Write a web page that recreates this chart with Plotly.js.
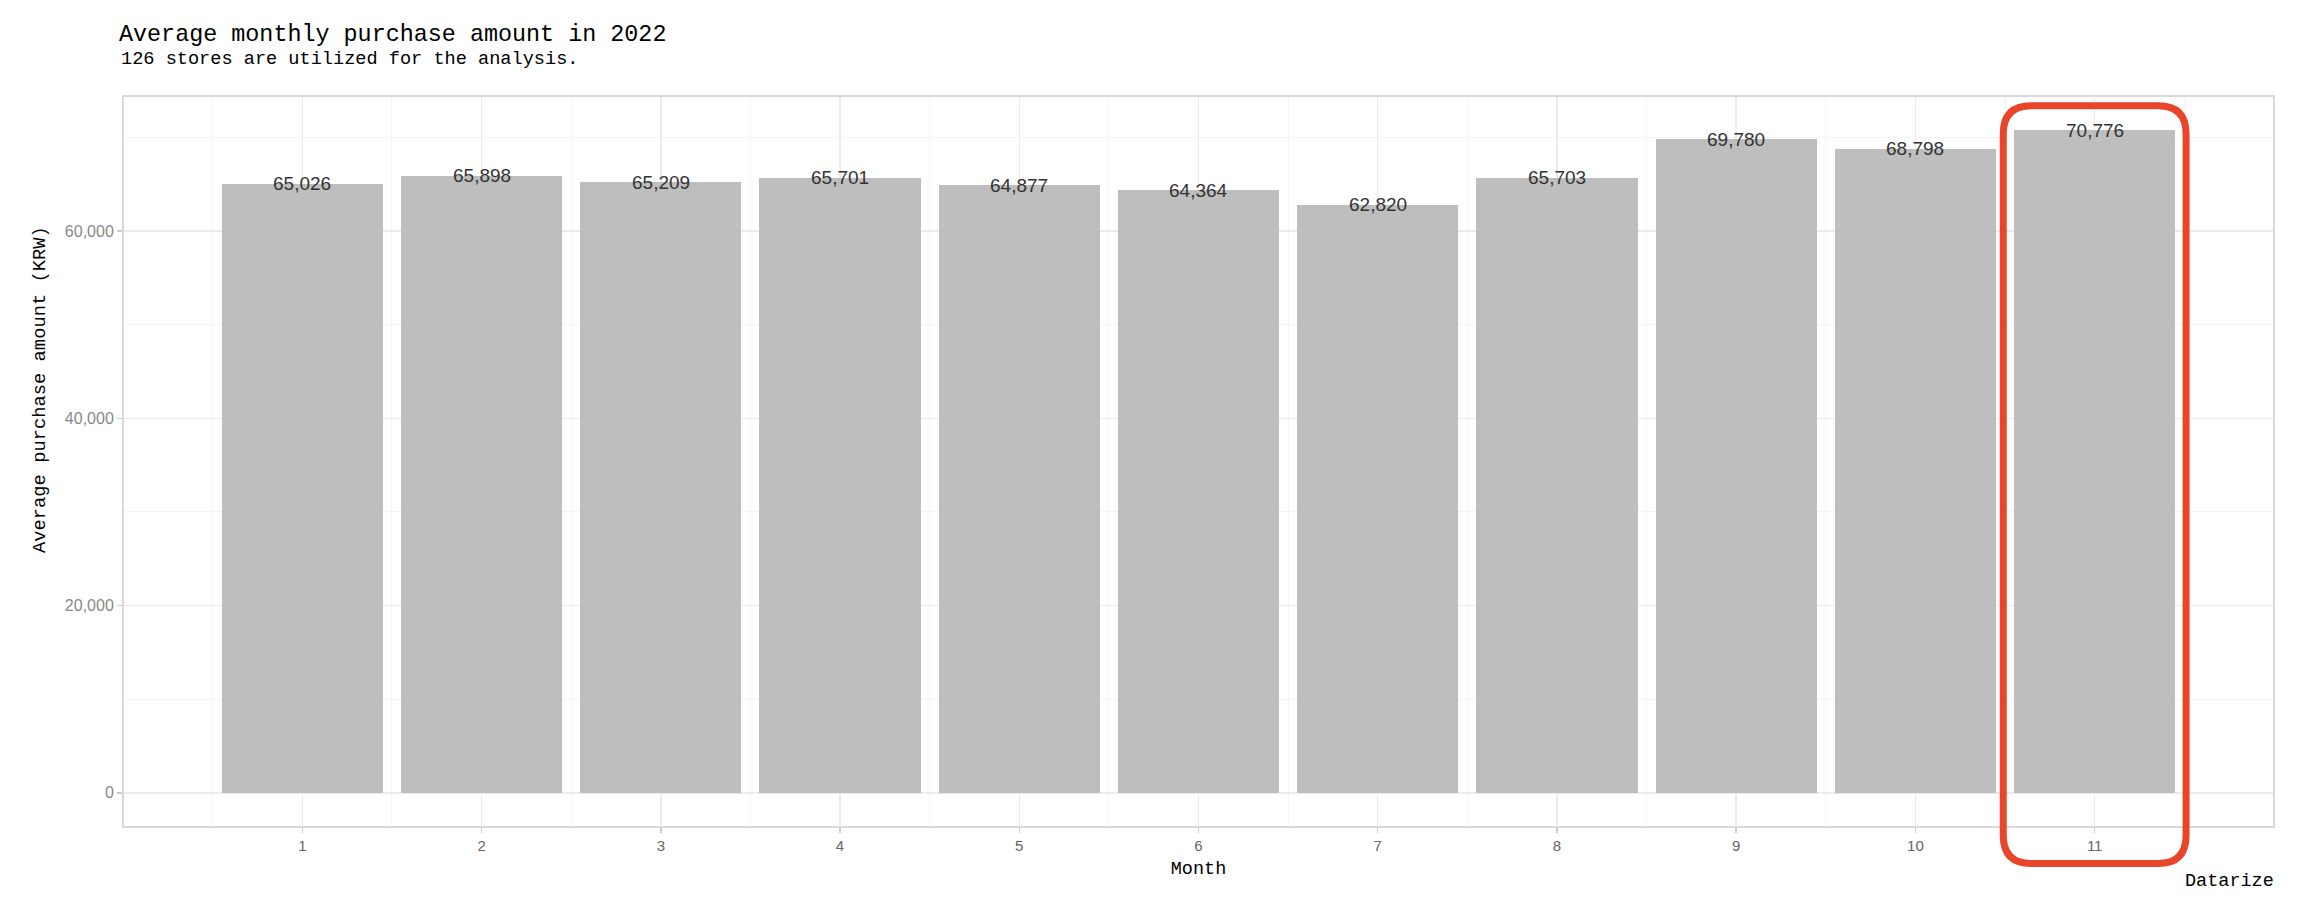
<!DOCTYPE html>
<html>
<head>
<meta charset="utf-8">
<script src="https://cdn.plot.ly/plotly-3.0.1.min.js"></script>
<style>
  html, body { margin: 0; padding: 0; background: #fff; }
  #chart { width: 2314px; height: 924px; }
</style>
</head>
<body>
<div id="chart"></div>
<script>
// ---- Data ----
const months = [1, 2, 3, 4, 5, 6, 7, 8, 9, 10, 11];
const monthLabels = ['1', '2', '3', '4', '5', '6', '7', '8', '9', '10', '11'];
const purchaseAmounts = [65026, 65898, 65209, 65701, 64877, 64364, 62820, 65703, 69780, 68798, 70776];
const yTickVals = [0, 20000, 40000, 60000];
const yMinorVals = [10000, 30000, 50000, 70000];
const xMinorVals = [0.5, 1.5, 2.5, 3.5, 4.5, 5.5, 6.5, 7.5, 8.5, 9.5, 10.5, 11.5];
const highlightMonth = 11;

const titleText = 'Average monthly purchase amount in 2022';
const subtitleText = '126 stores are utilized for the analysis.';
const captionText = 'Datarize';
const xTitle = 'Month';
const yTitle = 'Average purchase amount (KRW)';

// ---- Scales (ggplot-like expansion) ----
const barWidth = 0.9;
const xLo = Math.min(...months) - barWidth / 2;
const xHi = Math.max(...months) + barWidth / 2;
const xPad = (xHi - xLo) * 0.05;
const xRange = [xLo - xPad, xHi + xPad];
const yMax = Math.max(...purchaseAmounts);
const yRange = [-0.05 * yMax, yMax * 1.05];

const mono = 'Liberation Mono, Courier New, monospace';
const sans = 'Liberation Sans, Helvetica, Arial, sans-serif';

const trace = {
  type: 'bar',
  x: months,
  y: purchaseAmounts,
  width: barWidth,
  marker: { color: '#bebebe', line: { width: 0 } },
  hoverinfo: 'x+y'
};

const labelAnnotations = months.map((m, i) => ({
  x: m, y: purchaseAmounts[i], xref: 'x', yref: 'y',
  text: purchaseAmounts[i].toLocaleString('en-US'),
  showarrow: false, xanchor: 'center', yanchor: 'middle', yshift: 0,
  font: { family: sans, size: 19, color: '#333333' }
}));

// Highlight rounded rectangle around the selected month (paper coords)
const plotW = 2314 - 124 - 41, plotH = 924 - 97 - 98;
const toPaperX = v => (v - xRange[0]) / (xRange[1] - xRange[0]);
const hx0 = toPaperX(highlightMonth - 0.51);
const hx1 = toPaperX(highlightMonth + 0.51);
const hy0 = -0.0515, hy1 = 0.988;
const rx = 28 / plotW, ry = 28 / plotH;
const roundedPath =
  `M ${hx0 + rx} ${hy1} L ${hx1 - rx} ${hy1} Q ${hx1} ${hy1} ${hx1} ${hy1 - ry} ` +
  `L ${hx1} ${hy0 + ry} Q ${hx1} ${hy0} ${hx1 - rx} ${hy0} ` +
  `L ${hx0 + rx} ${hy0} Q ${hx0} ${hy0} ${hx0} ${hy0 + ry} ` +
  `L ${hx0} ${hy1 - ry} Q ${hx0} ${hy1} ${hx0 + rx} ${hy1} Z`;

const layout = {
  width: 2314, height: 924,
  paper_bgcolor: '#ffffff', plot_bgcolor: '#ffffff',
  margin: { l: 124, r: 41, t: 97, b: 98 },
  showlegend: false,
  bargap: 0,
  title: {
    text: titleText,
    x: 119 / 2314, xanchor: 'left', xref: 'container',
    y: 1 - 33 / 924, yanchor: 'middle', yref: 'container',
    font: { family: mono, size: 23.4, color: '#000000' }
  },
  xaxis: {
    range: xRange, autorange: false,
    tickmode: 'array', tickvals: months, ticktext: monthLabels,
    ticks: 'outside', ticklen: 5, tickwidth: 1.5, tickcolor: '#cccccc',
    tickfont: { family: sans, size: 15, color: '#666666' },
    showgrid: true, gridcolor: '#ebebeb', gridwidth: 1.5,
    minor: { tickmode: 'array', tickvals: xMinorVals, showgrid: true, gridcolor: '#f4f4f4', gridwidth: 1, ticks: '' },
    zeroline: false,
    showline: true, mirror: true, linecolor: '#d9d9d9', linewidth: 2,
    title: { text: xTitle, standoff: 8, font: { family: mono, size: 18.5, color: '#000000' } },
    fixedrange: true
  },
  yaxis: {
    range: yRange, autorange: false,
    tickmode: 'array', tickvals: yTickVals, tickformat: ',d',
    ticks: 'outside', ticklen: 5, tickwidth: 1.5, tickcolor: '#cccccc',
    tickfont: { family: sans, size: 16, color: '#888888' },
    showgrid: true, gridcolor: '#ebebeb', gridwidth: 1.5,
    minor: { tickmode: 'array', tickvals: yMinorVals, showgrid: true, gridcolor: '#f4f4f4', gridwidth: 1, ticks: '' },
    zeroline: false,
    showline: true, mirror: true, linecolor: '#d9d9d9', linewidth: 2,
    fixedrange: true
  },
  annotations: labelAnnotations.concat([
    {
      text: subtitleText, xref: 'paper', yref: 'paper',
      x: (119 - 124) / plotW, y: 1 + (97 - 59) / plotH,
      xanchor: 'left', yanchor: 'middle', showarrow: false,
      font: { family: mono, size: 18.6, color: '#000000' }
    },
    {
      text: yTitle, xref: 'paper', yref: 'paper', textangle: -90,
      x: (40 - 124) / plotW, y: (826 - 390) / plotH,
      xanchor: 'center', yanchor: 'middle', showarrow: false,
      font: { family: mono, size: 18.8, color: '#000000' }
    },
    {
      text: captionText, xref: 'paper', yref: 'paper',
      x: 1 + 3 / plotW, y: -(881 - 826) / plotH,
      xanchor: 'right', yanchor: 'middle', showarrow: false,
      font: { family: mono, size: 18.5, color: '#000000' }
    }
  ]),
  shapes: [{
    type: 'path', xref: 'paper', yref: 'paper', layer: 'above',
    path: roundedPath,
    line: { color: '#e8452b', width: 7 },
    fillcolor: 'rgba(0,0,0,0)'
  }]
};

Plotly.newPlot('chart', [trace], layout, { displayModeBar: false, staticPlot: true });
</script>
</body>
</html>
